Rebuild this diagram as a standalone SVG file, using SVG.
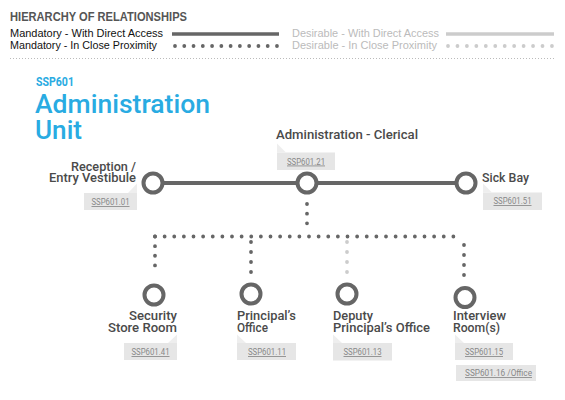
<svg xmlns="http://www.w3.org/2000/svg" width="565" height="400" viewBox="0 0 565 400">
<style>
.hdr{font-family:"Liberation Sans",Arial,sans-serif;font-weight:bold;font-size:12px;fill:#555}
.leg{font-family:"Liberation Sans",Arial,sans-serif;font-size:11px;fill:#111}
.legd{font-family:"Liberation Sans",Arial,sans-serif;font-size:11px;fill:#bbb}
.blue{font-family:Roboto,"DejaVu Sans",sans-serif;fill:#29abe2}
.lbl{font-family:Roboto,"DejaVu Sans",sans-serif;font-weight:500;font-size:13px;fill:#4a4a4a}
.tagt{font-family:Roboto,"DejaVu Sans",sans-serif;font-size:8.5px;fill:#888;text-decoration:underline}
.tag{fill:#e6e6e6}
.fold{fill:#eeeeee}
.ring{fill:#fff;stroke:#666;stroke-width:4}
.solid{stroke:#666;stroke-width:4;fill:none}
.dots{stroke:#666;stroke-width:3.8;stroke-linecap:round;fill:none}
.dotsd{stroke:#ccc;stroke-width:3.8;stroke-linecap:round;fill:none}
</style>
<g id="legend">
<text class="hdr" x="10" y="21" textLength="177" lengthAdjust="spacingAndGlyphs">HIERARCHY OF RELATIONSHIPS</text>
<text class="leg" x="10" y="37" textLength="153" lengthAdjust="spacingAndGlyphs">Mandatory - With Direct Access</text>
<text class="leg" x="10" y="49" textLength="147" lengthAdjust="spacingAndGlyphs">Mandatory - In Close Proximity</text>
<line x1="172" y1="34" x2="279" y2="34" stroke="#666" stroke-width="3.5"/>
<line x1="175" y1="46" x2="277" y2="46" class="dots" stroke-width="3.6" stroke-dasharray="0 9.27"/>
<text class="legd" x="292" y="37" textLength="147" lengthAdjust="spacingAndGlyphs">Desirable - With Direct Access</text>
<text class="legd" x="292" y="49" textLength="145" lengthAdjust="spacingAndGlyphs">Desirable - In Close Proximity</text>
<line x1="446" y1="34" x2="554" y2="34" stroke="#ccc" stroke-width="3.5"/>
<line x1="448" y1="46" x2="552" y2="46" class="dotsd" stroke-width="3.6" stroke-dasharray="0 9.45"/>
<line x1="10" y1="58.5" x2="555" y2="58.5" stroke="#bbb" stroke-width="1" stroke-dasharray="1 2"/>
</g>
<g id="title">
<text class="blue" x="36" y="86" font-size="12" font-weight="bold" textLength="38" lengthAdjust="spacingAndGlyphs">SSP601</text>
<text class="blue" x="35" y="113" font-size="25" font-weight="500" textLength="175" lengthAdjust="spacingAndGlyphs">Administration</text>
<text class="blue" x="35" y="139" font-size="25" font-weight="500" textLength="47" lengthAdjust="spacingAndGlyphs">Unit</text>
</g>
<g id="connectors">
<line class="solid" x1="153" y1="183" x2="466" y2="183"/>
<line class="dots" x1="307" y1="204" x2="307" y2="233" stroke-dasharray="0 9.667"/>
<line class="dots" x1="155" y1="236.5" x2="463" y2="236.5" stroke-dasharray="0 9.625"/>
<line class="dots" x1="155" y1="236.5" x2="155" y2="275" stroke-dasharray="0 9.625"/>
<line class="dots" x1="251" y1="242" x2="251" y2="282" stroke-dasharray="0 10"/>
<line class="dotsd" x1="347" y1="242" x2="347" y2="282" stroke-dasharray="0 10"/>
<line class="dots" x1="464" y1="245" x2="464" y2="285" stroke-dasharray="0 10"/>
</g>
<g id="reception">
<circle class="ring" cx="153" cy="183" r="9.5"/>
<text class="lbl" x="136" y="171" text-anchor="end" textLength="65" lengthAdjust="spacingAndGlyphs">Reception /</text>
<text class="lbl" x="136" y="182" text-anchor="end" textLength="87" lengthAdjust="spacingAndGlyphs">Entry Vestibule</text>
<rect class="tag" x="84" y="193" width="53" height="17"/>
<polygon class="fold" points="137,183.5 137,193 128,193"/>
<text class="tagt" x="110.5" y="205" text-anchor="middle" textLength="38" lengthAdjust="spacingAndGlyphs">SSP601.01</text>
</g>
<g id="admin-clerical">
<circle class="ring" cx="307" cy="183" r="9.5"/>
<text class="lbl" x="276" y="139" textLength="142" lengthAdjust="spacingAndGlyphs">Administration - Clerical</text>
<rect class="tag" x="277" y="152.5" width="58" height="17.5"/>
<polygon class="fold" points="277,143.5 277,152.5 286,152.5"/>
<text class="tagt" x="306" y="164.5" text-anchor="middle" textLength="38" lengthAdjust="spacingAndGlyphs">SSP601.21</text>
</g>
<g id="sick-bay">
<circle class="ring" cx="466" cy="183" r="9.5"/>
<text class="lbl" x="482" y="181.5" textLength="47" lengthAdjust="spacingAndGlyphs">Sick Bay</text>
<rect class="tag" x="483" y="192.5" width="59" height="17.5"/>
<polygon class="fold" points="483,183.5 483,192.5 492,192.5"/>
<text class="tagt" x="512.5" y="204" text-anchor="middle" textLength="38" lengthAdjust="spacingAndGlyphs">SSP601.51</text>
</g>
<g id="security">
<circle class="ring" cx="154" cy="295" r="9.5"/>
<text class="lbl" x="177" y="320" text-anchor="end" textLength="48" lengthAdjust="spacingAndGlyphs">Security</text>
<text class="lbl" x="177" y="332" text-anchor="end" textLength="69" lengthAdjust="spacingAndGlyphs">Store Room</text>
<rect class="tag" x="124" y="343" width="53" height="17"/>
<polygon class="fold" points="177,334.5 177,343 168,343"/>
<text class="tagt" x="150.5" y="355" text-anchor="middle" textLength="38" lengthAdjust="spacingAndGlyphs">SSP601.41</text>
</g>
<g id="principal">
<circle class="ring" cx="251" cy="294" r="9.5"/>
<text class="lbl" x="237" y="320" textLength="59" lengthAdjust="spacingAndGlyphs">Principal’s</text>
<text class="lbl" x="237" y="332" textLength="31" lengthAdjust="spacingAndGlyphs">Office</text>
<rect class="tag" x="237" y="343" width="59" height="17"/>
<polygon class="fold" points="237,334.5 237,343 246,343"/>
<text class="tagt" x="267" y="355" text-anchor="middle" textLength="38" lengthAdjust="spacingAndGlyphs">SSP601.11</text>
</g>
<g id="deputy">
<circle class="ring" cx="347" cy="294" r="9.5"/>
<text class="lbl" x="333" y="320" textLength="40" lengthAdjust="spacingAndGlyphs">Deputy</text>
<text class="lbl" x="333" y="332" textLength="97" lengthAdjust="spacingAndGlyphs">Principal’s Office</text>
<rect class="tag" x="333" y="343" width="59" height="17.5"/>
<polygon class="fold" points="333,334.5 333,343 342,343"/>
<text class="tagt" x="362.5" y="355" text-anchor="middle" textLength="38" lengthAdjust="spacingAndGlyphs">SSP601.13</text>
</g>
<g id="interview">
<circle class="ring" cx="465" cy="297.5" r="9.5"/>
<text class="lbl" x="453" y="320" textLength="53" lengthAdjust="spacingAndGlyphs">Interview</text>
<text class="lbl" x="453" y="332" textLength="47" lengthAdjust="spacingAndGlyphs">Room(s)</text>
<rect class="tag" x="455" y="343" width="58" height="17"/>
<polygon class="fold" points="455,334.5 455,343 464,343"/>
<text class="tagt" x="484" y="355" text-anchor="middle" textLength="38" lengthAdjust="spacingAndGlyphs">SSP601.15</text>
<rect class="tag" x="456" y="365" width="80" height="16"/>
<text class="tagt" x="465" y="376" textLength="67" lengthAdjust="spacingAndGlyphs">SSP601.16  /Office</text>
</g>
</svg>
